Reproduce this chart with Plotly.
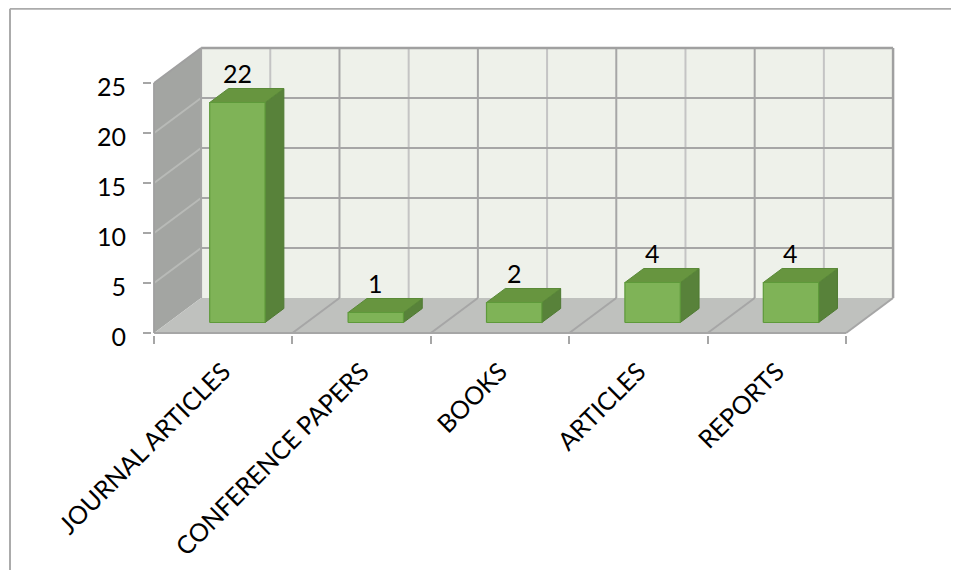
import plotly.graph_objects as go

# ---- data ----
categories = ["JOURNAL ARTICLES", "CONFERENCE PAPERS", "BOOKS", "ARTICLES", "REPORTS"]
values = [22, 1, 2, 4, 4]
y_ticks = [0, 5, 10, 15, 20, 25]

# ---- 3D projection settings (category units / value units) ----
PX_PER_CAT = 138.4
PX_PER_VAL = 10.0
DX = 47 / PX_PER_CAT      # depth offset in x (category units)
DY = 35 / PX_PER_VAL      # depth offset in y (value units)
D0, D1 = 0.3, 0.7         # bar depth extent
HW = 0.2                  # bar half width
YMAX = y_ticks[-1]
NCAT = len(categories)

FONT = "Lato"
TXT = 25

# page body has an 8px margin -> figure pixel = page pixel - 8
OFF = 8
W, H = 951, 562
L_M = 152 - OFF
PLOT_BOTTOM = 335 - OFF
B_M = H - PLOT_BOTTOM
X0 = -0.015
X1 = X0 + (W - L_M) / PX_PER_CAT
Y0 = -0.2
Y1 = Y0 + PLOT_BOTTOM / PX_PER_VAL


def P(x, v, d):
    return x + d * DX, v + d * DY


fig = go.Figure()


def poly(pts, fill, line, width=1.0):
    xs = [p[0] for p in pts] + [pts[0][0]]
    ys = [p[1] for p in pts] + [pts[0][1]]
    fig.add_trace(go.Scatter(x=xs, y=ys, mode="lines", fill="toself",
                             fillcolor=fill, line=dict(color=line, width=width),
                             hoverinfo="skip", showlegend=False))


def segs(pairs, color, width):
    xs, ys = [], []
    for a, b in pairs:
        xs += [a[0], b[0], None]
        ys += [a[1], b[1], None]
    fig.add_trace(go.Scatter(x=xs, y=ys, mode="lines",
                             line=dict(color=color, width=width),
                             hoverinfo="skip", showlegend=False))


# back wall
poly([P(0, 0, 1), P(NCAT, 0, 1), P(NCAT, YMAX, 1), P(0, YMAX, 1)], "#EEF1EA", "#EEF1EA", 0)
# left wall
poly([P(0, 0, 0), P(0, 0, 1), P(0, YMAX, 1), P(0, YMAX, 0)], "#A3A5A2", "#A3A5A2", 0)
# floor
poly([P(0, 0, 0), P(NCAT, 0, 0), P(NCAT, 0, 1), P(0, 0, 1)], "#BFC1BE", "#BFC1BE", 0)

# back-wall vertical gridlines (category centres lighter)
segs([(P(k + 0.5, 0, 1), P(k + 0.5, YMAX, 1)) for k in range(NCAT)], "#C4C4C4", 2)
segs([(P(k, 0, 1), P(k, YMAX, 1)) for k in range(1, NCAT)], "#A6A6A6", 2)
# back-wall horizontal gridlines
segs([(P(0, v, 1), P(NCAT, v, 1)) for v in y_ticks[1:-1]], "#A6A6A6", 2)
# left-wall gridlines
segs([(P(0, v, 0), P(0, v, 1)) for v in y_ticks[1:-1]], "#B8BAB7", 2)
# floor gridlines
segs([(P(k, 0, 0), P(k, 0, 1)) for k in range(1, NCAT)], "#A6A6A6", 2)
# outlines
segs([(P(0, YMAX, 1), P(NCAT, YMAX, 1)), (P(NCAT, YMAX, 1), P(NCAT, 0, 1))], "#A0A0A0", 2.5)
segs([(P(0, 0, 1), P(0, YMAX, 1))], "#A6A6A6", 2)
segs([(P(0, 0, 0), P(NCAT, 0, 0)), (P(NCAT, 0, 0), P(NCAT, 0, 1))], "#A6A6A6", 2)
segs([(P(0, 0, 0), P(0, YMAX, 0)), (P(0, YMAX, 0), P(0, YMAX, 1))], "#A0A0A0", 2)

# bars
for i, v in enumerate(values):
    c = i + 0.5
    l, r = c - HW, c + HW
    poly([P(r, 0, D0), P(r, 0, D1), P(r, v, D1), P(r, v, D0)], "#58823A", "#4F7A32", 1)
    poly([P(l, v, D0), P(r, v, D0), P(r, v, D1), P(l, v, D1)], "#67953F", "#5A8A38", 1)
    poly([P(l, 0, D0), P(r, 0, D0), P(r, v, D0), P(l, v, D0)], "#7FB357", "#5E9A3A", 1.2)

# value labels
for i, v in enumerate(values):
    x, y = P(i + 0.5, v, D0)
    fig.add_annotation(x=x, y=y, text=str(v), showarrow=False, yshift=30,
                       font=dict(family=FONT, size=TXT, color="#000000"))


# outer border (page pixel -> paper)
def px(xp):
    return (xp - OFF - L_M) / (W - L_M)


def py(yp):
    return (PLOT_BOTTOM - (yp - OFF)) / PLOT_BOTTOM


fig.add_shape(type="line", xref="paper", yref="paper", x0=px(10), x1=px(10), y0=py(8.7), y1=py(H + OFF),
              line=dict(color="#ABABAB", width=2))
fig.add_shape(type="line", xref="paper", yref="paper", x0=px(10), x1=px(W + OFF), y0=py(8.7), y1=py(8.7),
              line=dict(color="#ABABAB", width=2))

fig.update_layout(
    width=W, height=H,
    margin=dict(l=L_M, r=0, t=0, b=B_M, pad=0),
    paper_bgcolor="white", plot_bgcolor="white",
    font=dict(family=FONT, size=TXT, color="#000000"),
    xaxis=dict(range=[X0, X1], showgrid=False, zeroline=False, showline=False,
               tickvals=[k + 0.5 for k in range(NCAT)], ticktext=categories,
               tickangle=-45, ticks="", ticklabelstandoff=16,
               minor=dict(tickvals=list(range(NCAT + 1)), ticks="outside", ticklen=8,
                          tickcolor="#A6A6A6", tickwidth=2, showgrid=False),
               tickfont=dict(family=FONT, size=TXT), fixedrange=True),
    yaxis=dict(range=[Y0, Y1], showgrid=False, zeroline=False, showline=False,
               tickvals=y_ticks, ticks="outside", ticklen=8, tickcolor="#A6A6A6", tickwidth=2,
               ticklabelstandoff=12, ticklabelshift=4,
               tickfont=dict(family=FONT, size=TXT), fixedrange=True),
)

fig.write_html("out.html")
